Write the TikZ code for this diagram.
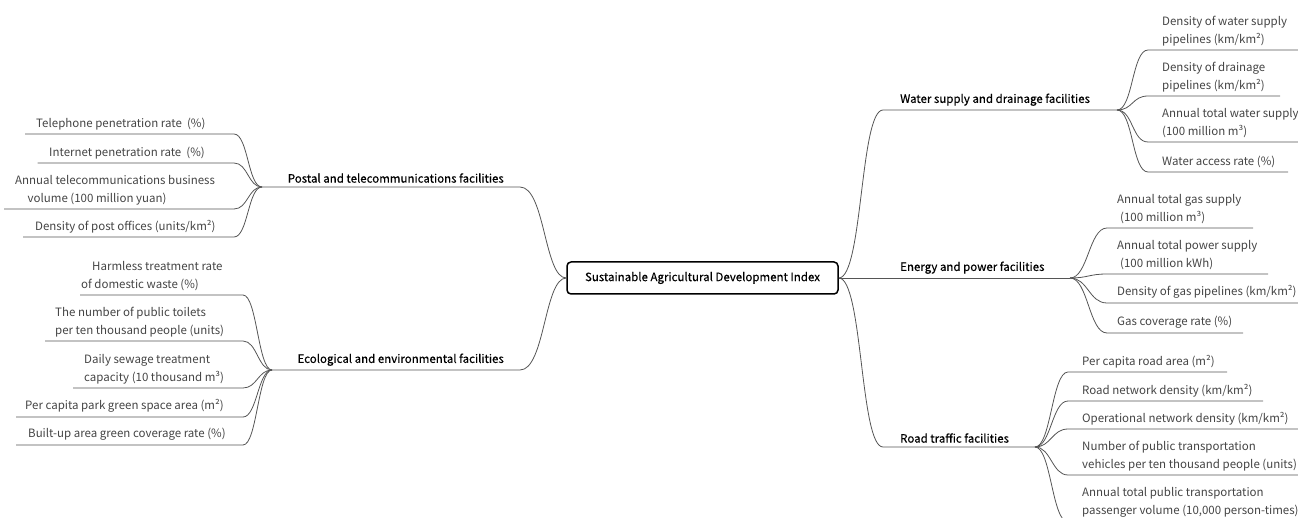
\documentclass[tikz,border=0pt]{standalone}
\usepackage{fontspec}
\setmainfont{Noto Sans CJK SC}
\newfontfamily\heavyfont[FakeBold=0.35]{Noto Sans CJK SC}
\definecolor{leafgray}{HTML}{444444}
\definecolor{linegray}{HTML}{555555}
\begin{document}
\begin{tikzpicture}[x=1pt,y=-1pt,
  leaf/.style={font=\fontsize{11.5}{18}\selectfont, text=leafgray, inner sep=0pt, align=left, anchor=south west},
  catl/.style={font=\heavyfont\fontsize{11.5}{18}\selectfont, text=black, inner sep=0pt, anchor=south east},
  catr/.style={font=\heavyfont\fontsize{11.5}{18}\selectfont, text=black, inner sep=0pt, anchor=south west},
  hub/.style={draw=black, line width=1.5pt, rounded corners=4pt, minimum width=271pt, minimum height=32pt, font=\heavyfont\fontsize{11.5}{18}\selectfont, inner sep=0pt},
  conn/.style={draw=linegray, line width=0.8pt},
]
\useasboundingbox (0,0) rectangle (1298,518);
\clip (0,0) rectangle (1298,518);

% central node
\node[hub] (c) at (702.5,278) {Sustainable Agricultural Development Index};

% ---------- Postal ----------
\coordinate (pJ) at (262,187); \coordinate (pR) at (520,187);
\node[catl] (postal) at (504,183) {Postal and telecommunications facilities};
\draw[conn] (c.west) .. controls +(-22,0) and +(25,0) .. (pR) -- (pJ);

\node[leaf] (p1) at (36,130) {Telephone penetration rate\ \ (\%)};
\coordinate (p1a) at (234,134); \coordinate (p1b) at (25,134);
\draw[conn] (pJ) .. controls +(-14,0) and +(14,0) .. (p1a) -- (p1b);

\node[leaf] (p2) at (49,159) {Internet penetration rate\ \ (\%)};
\coordinate (p2a) at (234,163); \coordinate (p2b) at (37.5,163);
\draw[conn] (pJ) .. controls +(-14,0) and +(14,0) .. (p2a) -- (p2b);

\node[leaf] (p3) at (15,205) {Annual telecommunications business\\\hspace*{12.5pt}volume (100 million yuan)};
\coordinate (p3a) at (234,209); \coordinate (p3b) at (4,209);
\draw[conn] (pJ) .. controls +(-14,0) and +(14,0) .. (p3a) -- (p3b);

\node[leaf] (p4) at (35,233) {Density of post offices (units/km²)};
\coordinate (p4a) at (234,237); \coordinate (p4b) at (23,237);
\draw[conn] (pJ) .. controls +(-14,0) and +(14,0) .. (p4a) -- (p4b);

% ---------- Ecological ----------
\coordinate (eJ) at (272,370); \coordinate (eR) at (520,370);
\node[catl] (eco) at (504,366) {Ecological and environmental facilities};
\draw[conn] (c.west) .. controls +(-22,0) and +(25,0) .. (eR) -- (eJ);

\node[leaf] (e1) at (81,291) {\hspace*{11pt}Harmless treatment rate\\of domestic waste (\%)};
\coordinate (e1a) at (243,295); \coordinate (e1b) at (80,295);
\draw[conn] (eJ) .. controls +(-14,0) and +(14,0) .. (e1a) -- (e1b);

\node[leaf] (e2) at (55,337) {The number of public toilets\\per ten thousand people (units)};
\coordinate (e2a) at (243,341); \coordinate (e2b) at (45,341);
\draw[conn] (eJ) .. controls +(-14,0) and +(14,0) .. (e2a) -- (e2b);

\node[leaf] (e3) at (84,384) {Daily sewage treatment\\capacity (10 thousand m³)};
\coordinate (e3a) at (243,388); \coordinate (e3b) at (73,388);
\draw[conn] (eJ) .. controls +(-14,0) and +(14,0) .. (e3a) -- (e3b);

\node[leaf] (e4) at (25,413) {Per capita park green space area (m²)};
\coordinate (e4a) at (243,417); \coordinate (e4b) at (16,417);
\draw[conn] (eJ) .. controls +(-14,0) and +(14,0) .. (e4a) -- (e4b);

\node[leaf] (e5) at (28,441) {Built-up area green coverage rate (\%)};
\coordinate (e5a) at (243,445); \coordinate (e5b) at (16,445);
\draw[conn] (eJ) .. controls +(-14,0) and +(14,0) .. (e5a) -- (e5b);

% ---------- Water ----------
\coordinate (wL) at (883,110); \coordinate (wJ) at (1117,110);
\node[catr] (water) at (900,106) {Water supply and drainage facilities};
\draw[conn] (c.east) .. controls +(24,0) and +(-23,0) .. (wL) -- (wJ);

\node[leaf] (w1) at (1162,46) {Density of water supply\\pipelines (km/km²)};
\coordinate (w1a) at (1148,50); \coordinate (w1b) at (1298,50);
\draw[conn] (wJ) .. controls +(16,0) and +(-16,0) .. (w1a) -- (w1b);

\node[leaf] (w2) at (1162,92) {Density of drainage\\pipelines (km/km²)};
\coordinate (w2a) at (1148,96); \coordinate (w2b) at (1280,96);
\draw[conn] (wJ) .. controls +(16,0) and +(-16,0) .. (w2a) -- (w2b);

\node[leaf] (w3) at (1162,138) {Annual total water supply\\(100 million m³)};
\coordinate (w3a) at (1148,142); \coordinate (w3b) at (1298,142);
\draw[conn] (wJ) .. controls +(16,0) and +(-16,0) .. (w3a) -- (w3b);

\node[leaf] (w4) at (1162,168) {Water access rate (\%)};
\coordinate (w4a) at (1148,172); \coordinate (w4b) at (1288,172);
\draw[conn] (wJ) .. controls +(16,0) and +(-16,0) .. (w4a) -- (w4b);

% ---------- Energy ----------
\coordinate (gJ) at (1070,278);
\node[catr] (energy) at (900,274) {Energy and power facilities};
\draw[conn] (c.east) -- (gJ);

\node[leaf] (g1) at (1117,224) {Annual total gas supply\\\hspace*{3pt}(100 million m³)};
\coordinate (g1a) at (1107,228); \coordinate (g1b) at (1253,228);
\draw[conn] (gJ) .. controls +(18,0) and +(-18,0) .. (g1a) -- (g1b);

\node[leaf] (g2) at (1117,270) {Annual total power supply\\\hspace*{3pt}(100 million kWh)};
\coordinate (g2a) at (1107,274); \coordinate (g2b) at (1268,274);
\draw[conn] (gJ) .. controls +(18,0) and +(-18,0) .. (g2a) -- (g2b);

\node[leaf] (g3) at (1117,299) {Density of gas pipelines (km/km²)};
\coordinate (g3a) at (1107,303); \coordinate (g3b) at (1298,303);
\draw[conn] (gJ) .. controls +(18,0) and +(-18,0) .. (g3a) -- (g3b);

\node[leaf] (g4) at (1117,329) {Gas coverage rate (\%)};
\coordinate (g4a) at (1107,333); \coordinate (g4b) at (1243,333);
\draw[conn] (gJ) .. controls +(18,0) and +(-18,0) .. (g4a) -- (g4b);

% ---------- Road ----------
\coordinate (rL) at (883,447); \coordinate (rJ) at (1035,447);
\node[catr] (road) at (900,443) {Road traffic facilities};
\draw[conn] (c.east) .. controls +(24,0) and +(-23,0) .. (rL) -- (rJ);

\node[leaf] (r1) at (1082,368) {Per capita road area (m²)};
\coordinate (r1a) at (1068,372); \coordinate (r1b) at (1227,372);
\draw[conn] (rJ) .. controls +(16,0) and +(-16,0) .. (r1a) -- (r1b);

\node[leaf] (r2) at (1082,397) {Road network density (km/km²)};
\coordinate (r2a) at (1068,401); \coordinate (r2b) at (1263,401);
\draw[conn] (rJ) .. controls +(16,0) and +(-16,0) .. (r2a) -- (r2b);

\node[leaf] (r3) at (1082,425) {Operational network density (km/km²)};
\coordinate (r3a) at (1068,429); \coordinate (r3b) at (1298,429);
\draw[conn] (rJ) .. controls +(16,0) and +(-16,0) .. (r3a) -- (r3b);

\node[leaf] (r4) at (1082,471) {Number of public transportation\\vehicles per ten thousand people (units)};
\coordinate (r4a) at (1068,475); \coordinate (r4b) at (1298,475);
\draw[conn] (rJ) .. controls +(16,0) and +(-16,0) .. (r4a) -- (r4b);

\node[leaf] (r5) at (1082,518) {Annual total public transportation\\passenger volume (10,000 person-times)};
\coordinate (r5a) at (1068,522); \coordinate (r5b) at (1298,522);
\draw[conn] (rJ) .. controls +(16,0) and +(-16,0) .. (r5a) -- (r5b);
\end{tikzpicture}
\end{document}
